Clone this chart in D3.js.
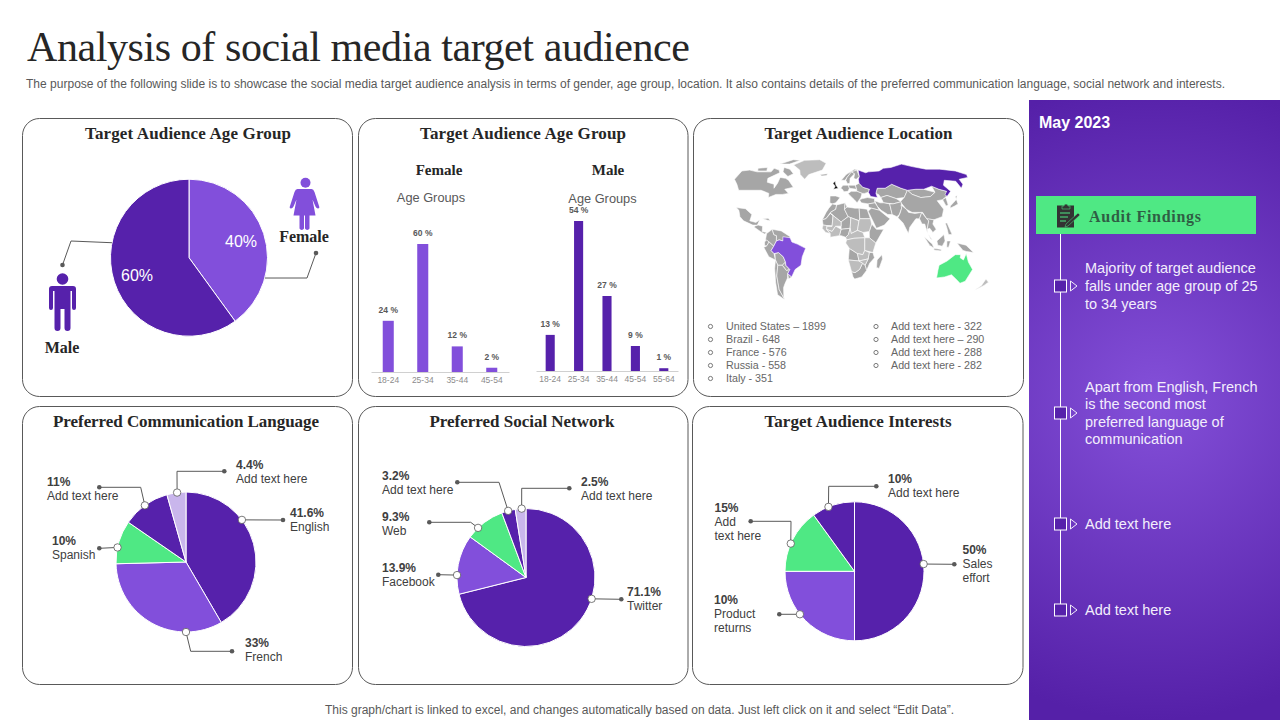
<!DOCTYPE html>
<html>
<head>
<meta charset="utf-8">
<script src="https://cdn.jsdelivr.net/npm/d3@7"></script>
<style>
body {margin: 0; background: #fff;}
svg {display: block;}
text {font-family: "Liberation Sans", Arial, sans-serif;}
.serif {font-family: "Liberation Serif", "Times New Roman", serif; font-weight: bold; fill: #262626;}
</style>
</head>
<body>
<div id="chart"></div>
<script>
// colours used all over the slide
const dark = "#5621AB", light = "#824FDB", green = "#4FE884", lilac = "#C9B6EC";

// gender split
const genderNames = ["Female", "Male"];
const genderValues = [40, 60];

// age group bars
const femaleAges = ["18-24", "25-34", "35-44", "45-54"];
const femaleValues = [24, 60, 12, 2];
const maleAges = ["18-24", "25-34", "35-44", "45-54", "55-64"];
const maleValues = [13, 54, 27, 9, 1];

// location list
const locationLeft = ["United States – 1899", "Brazil - 648", "France - 576", "Russia - 558", "Italy  - 351"];
const locationRight = ["Add text here - 322", "Add text here – 290", "Add text here - 288", "Add text here - 282"];

// pies
const languageValues = [41.6, 33, 10, 11, 4.4];
const languageLabels = ["41.6%", "33%", "10%", "11%", "4.4%"];
const languageNames = [["English"], ["French"], ["Spanish"], ["Add text here"], ["Add text here"]];
const networkValues = [71.1, 13.9, 9.3, 3.2, 2.5];
const networkLabels = ["71.1%", "13.9%", "9.3%", "3.2%", "2.5%"];
const networkNames = [["Twitter"], ["Facebook"], ["Web"], ["Add text here"], ["Add text here"]];
// the slice is a quarter of the pie but the slide labels it 10%
const interestValues = [50, 25, 15, 10];
const interestLabels = ["50%", "10%", "15%", "10%"];
const interestNames = [["Sales", "effort"], ["Product", "returns"], ["Add", "text here"], ["Add text here"]];

// sidebar
const findings = [
    ["Majority of target audience", "falls under age group of 25", "to 34 years"],
    ["Apart from English, French", "is the second most", "preferred language of", "communication"],
    ["Add text here"],
    ["Add text here"]
];

// rough world outline, [lon, lat]. no atlas file in here so drawn by hand
const mapGray = {
    canada: [[-138,69],[-128,70],[-115,68],[-95,68],[-94,72],[-85,70],[-82,67],[-94,61],[-92,57],[-82,55],[-80,51],[-78,56],[-78,62],[-70,61],[-65,59],[-56,52],[-66,50],[-60,46],[-67,45],[-75,45],[-83,42],[-84,46],[-95,49],[-123,49],[-130,55],[-138,60]],
    baffin: [[-80,73],[-70,71],[-62,66],[-68,63],[-78,68]],
    victoria: [[-118,72],[-105,73],[-102,69],[-115,69]],
    ellesmere: [[-90,77],[-75,83],[-62,82],[-75,77]],
    mexico: [[-117,32.5],[-106,31.5],[-97,26],[-98,20],[-91,18.5],[-87,21],[-89,16],[-94,16],[-105,20],[-110,24],[-113,30]],
    centralAmerica: [[-92,15],[-88,16],[-83,15],[-83,10],[-78,9],[-80,7.5],[-85,10],[-92,14]],
    cuba: [[-84,22],[-78,22.5],[-75,20],[-78,20.5]],
    colombia: [[-78,8],[-72,12],[-70,7],[-67,6],[-67,1],[-70,-4],[-75,0],[-79,2]],
    venezuela: [[-72,12],[-62,10.5],[-52,5],[-54,2],[-60,1],[-64,2],[-67,1],[-67,6],[-70,7]],
    ecuador: [[-80,0],[-78,2],[-75,0],[-78,-4],[-80,-3]],
    peru: [[-81,-5],[-78,-4],[-75,0],[-70,-4],[-73,-8],[-70,-11],[-69,-17],[-76,-14]],
    bolivia: [[-69,-11],[-65,-10],[-60,-14],[-58,-19],[-62,-22],[-67,-22],[-69,-17]],
    paraguay: [[-58,-19],[-58,-22],[-54,-26],[-58,-27],[-62,-22]],
    chile: [[-69,-17],[-67,-22],[-70,-32],[-71,-45],[-68,-55],[-75,-50],[-73,-38],[-71,-25]],
    argentina: [[-67,-22],[-62,-22],[-58,-27],[-54,-26],[-57,-30],[-58,-34],[-62,-39],[-65,-43],[-68,-52],[-68,-55],[-71,-45],[-70,-32]],
    uruguay: [[-57,-30],[-53,-33],[-57,-35]],
    iceland: [[-24,65],[-14,66],[-15,64],[-22,63.5]],
    spain: [[-9,43.5],[-2,43.5],[3,42],[0,39],[-2,37],[-6,36],[-9,37]],
    norway: [[5,59],[12,65],[25,71],[30,70],[20,68],[13,62],[10,59]],
    sweden: [[11,59],[13,62],[20,68],[24,66],[17,61],[16,56],[13,55.5]],
    finland: [[24,66],[20,68],[28,70],[30,63],[25,60],[22,61]],
    germany: [[4,51],[7,54],[14,54],[15,51],[13,48],[8,47.5],[6,50]],
    poland: [[14,54],[23,54],[24,50],[15,51]],
    ukraine: [[23,54],[28,56],[32,52],[40,50],[38,47],[33,46],[30,46],[24,48],[24,50]],
    balkans: [[13,46],[17,48],[24,48],[30,46],[28,42],[26,40],[23,37],[20,40],[15,44]],
    turkey: [[26,40],[30,41],[36,42],[44,41],[44,37],[36,36],[28,37]],
    kazakhstan: [[47,46],[50,51],[60,51],[70,55],[80,51],[87,49],[80,42],[70,41],[60,44],[52,42],[50,45]],
    centralAsia: [[52,42],[60,44],[70,41],[75,38],[65,36],[54,37]],
    mongolia: [[87,49],[98,50],[108,50],[120,47],[112,43],[100,42],[91,45]],
    china: [[80,42],[87,49],[91,45],[100,42],[112,43],[120,47],[120,53],[127,50],[135,48],[131,43],[125,40],[118,39],[122,31],[118,24],[108,21],[100,22],[97,28],[85,28],[79,31],[74,38]],
    korea: [[125,40],[130,42],[129,35],[126,34]],
    japan: [[130,32],[136,34],[141,36],[142,43],[145,44],[141,40],[136,37],[131,34]],
    iran: [[44,39],[50,37],[54,37],[61,36],[62,26],[57,26],[50,30],[46,34]],
    iraq: [[36,36],[44,37],[46,34],[48,30],[39,32],[36,33]],
    saudi: [[35,29],[39,32],[48,30],[56,24],[59,22],[52,16],[43,13],[39,21]],
    pakistan: [[61,36],[65,36],[75,38],[74,32],[70,26],[67,24],[62,26]],
    india: [[74,35],[79,31],[81,28],[88,27],[96,28],[92,22],[88,22],[80,14],[78,8],[73,18],[68,23],[71,27],[74,32]],
    burma: [[92,22],[96,28],[100,22],[102,20],[99,12],[99,8],[97,17],[94,17]],
    indochina: [[100,22],[108,21],[106,17],[109,12],[105,9],[102,13],[99,12],[102,20]],
    malaya: [[100,7],[104,2],[102,3]],
    sumatra: [[95,5],[104,-2],[106,-6],[101,-3]],
    borneo: [[109,1],[117,7],[118,1],[115,-4],[110,-3]],
    java: [[106,-6],[114,-7],[114,-8.5],[106,-7.5]],
    sulawesi: [[120,1],[124,1],[122,-5],[120,-5]],
    philippines: [[120,18],[122,18],[124,12],[126,7],[122,7],[121,13]],
    guinea: [[131,-1],[141,-3],[150,-10],[142,-9],[138,-8]],
    morocco: [[-6,36],[-1,35],[-2,31],[-8,28],[-13,22],[-17,21],[-13,28],[-10,32]],
    algeria: [[-1,35],[9,37],[8,31],[12,24],[4,19],[-8,27],[-8,28],[-2,31]],
    tunisia: [[9,37],[11,33],[8,31]],
    libya: [[11,33],[20,32],[25,32],[25,20],[15,23],[12,24],[8,31]],
    egypt: [[25,32],[34,31],[37,22],[25,22]],
    mauritania: [[-17,21],[-13,22],[-8,27],[-5,25],[-6,15],[-16,16]],
    niger: [[4,19],[12,24],[15,23],[14,13],[4,12],[4,15]],
    nigeria: [[2,6],[4,12],[14,13],[12,7],[9,4.5],[4,6]],
    ethiopia: [[35,10],[38,17],[43,12],[51,12],[42,-1],[35,4]],
    angola: [[13,-6],[22,-11],[24,-18],[12,-17]],
    mozambique: [[39,-10],[35,-10],[34,-16],[31,-22],[33,-27],[36,-20],[41,-15]],
    southAfrica: [[16,-28],[20,-29],[25,-26],[28,-20],[31,-22],[33,-27],[28,-33],[20,-35],[18,-33]],
    madagascar: [[49,-12],[50,-16],[47,-25],[44,-24],[44,-17]]
};
const mapPale = {
    greenland: [[-55,82],[-30,83],[-18,78],[-22,70],[-40,65],[-44,60],[-52,65],[-55,70],[-68,76]],
    mali: [[-8,27],[4,19],[4,15],[-2,15],[-6,10],[-12,12],[-12,15],[-6,15],[-5,25]],
    chad: [[15,23],[24,20],[22,11],[15,8],[14,13]],
    sudan: [[24,20],[25,22],[37,22],[38,17],[35,10],[28,9],[22,11]],
    westCoast: [[-16,16],[-6,15],[-12,15],[-12,12],[-8,8],[-13,9],[-17,13]],
    ghana: [[-12,12],[-6,10],[-2,15],[4,12],[2,6],[-8,4.5],[-8,8]],
    cameroon: [[9,4.5],[12,7],[14,13],[15,8],[22,11],[28,9],[30,4],[18,3.5],[10,2]],
    congo: [[10,2],[18,3.5],[30,4],[30,-8],[28,-12],[22,-11],[13,-6],[9,-1]],
    kenya: [[30,4],[35,4],[42,-1],[39,-10],[30,-8]],
    zambia: [[22,-11],[28,-12],[30,-8],[35,-10],[34,-16],[24,-18]],
    namibia: [[12,-17],[24,-18],[28,-20],[25,-26],[20,-29],[16,-28]],
    zimbabwe: [[24,-18],[34,-16],[31,-22],[28,-20]],
    newZealand: [[173,-35],[178,-38],[175,-41],[167,-46],[172,-41]]
};
const mapRussia = [[28,60],[30,63],[30,70],[40,67],[44,68],[60,69],[68,72],[80,73],[100,77],[113,74],[130,71],[150,71],[170,69],[180,65],[177,62],[163,60],[162,55],[156,51],[156,58],[142,59],[136,54],[140,48],[132,43],[131,45],[135,48],[127,50],[120,53],[108,50],[98,50],[87,49],[80,51],[70,55],[60,51],[50,51],[47,46],[48,42],[40,43],[38,47],[40,50],[32,52],[28,56]];
const mapBrazil = [[-60,5],[-52,4],[-50,0],[-44,-2],[-35,-6],[-39,-14],[-41,-22],[-48,-26],[-53,-33],[-57,-30],[-54,-26],[-58,-22],[-58,-19],[-60,-14],[-65,-10],[-70,-11],[-73,-8],[-70,-4],[-67,1],[-64,2],[-60,1]];
const mapAustralia = [[114,-22],[122,-18],[130,-12],[136,-12],[136,-15],[140,-17],[142,-11],[146,-19],[153,-26],[150,-37],[145,-39],[138,-35],[131,-31],[124,-33],[115,-34],[114,-27]];
const mapUk = [[-5,50],[1,51],[-2,54],[-3,58],[-6,56],[-3,53]];

const svg = d3.select("#chart").append("svg").attr("width", 1280).attr("height", 720);
const defs = svg.append("defs");

var grad = defs.append("radialGradient").attr("id", "sideGrad")
    .attr("gradientUnits", "userSpaceOnUse")
    .attr("cx", 1155).attr("cy", 400).attr("r", 320);
grad.append("stop").attr("offset", "0%").attr("stop-color", "#8450D9");
grad.append("stop").attr("offset", "100%").attr("stop-color", "#5520A8");

// small helper so text calls stay short
function label(parent, x, y, str, size, fill, opts) {
    opts = opts || {};
    var t = parent.append("text")
        .attr("x", x).attr("y", y).attr("dy", "0.35em")
        .attr("font-size", size).attr("fill", fill)
        .attr("text-anchor", opts.anchor || "start")
        .text(str);
    if (opts.bold) t.attr("font-weight", "bold");
    if (opts.serif) t.attr("class", "serif");
    if (opts.width) t.attr("textLength", opts.width).attr("lengthAdjust", "spacing");
    return t;
}

// header and footer
svg.append("text").attr("class", "serif").attr("x", 27).attr("y", 61)
    .attr("font-size", 42).style("font-weight", "normal")
    .attr("textLength", 663).text("Analysis of social media target audience");
label(svg, 26, 84, "The purpose of the following slide is to showcase the social media target audience analysis in terms of gender, age group, location. It also contains details of the preferred communication language, social network and interests.", 12, "#595959", {width: 1199});
label(svg, 325, 710, "This graph/chart is linked to excel,  and changes automatically based on data. Just left click on it and select “Edit Data”.", 12, "#595959", {width: 629});

// the six cards
const cards = [
    {x: 22.5, y: 118.5, w: 330, h: 278, tx: 188, title: "Target Audience Age Group"},
    {x: 358.5, y: 118.5, w: 329.5, h: 278, tx: 523, title: "Target Audience Age Group"},
    {x: 693.5, y: 118.5, w: 330, h: 278, tx: 858.5, title: "Target Audience Location"},
    {x: 22.5, y: 406.5, w: 330, h: 278, tx: 186, title: "Preferred Communication Language"},
    {x: 358.5, y: 406.5, w: 329.5, h: 278, tx: 522, title: "Preferred Social Network"},
    {x: 692.5, y: 406.5, w: 330.5, h: 278, tx: 858, title: "Target Audience Interests"}
];
const cardTitleWidths = [206, 206, 188, 266, 185, 187];
cards.forEach(function (c, i) {
    svg.append("rect").attr("x", c.x).attr("y", c.y).attr("width", c.w).attr("height", c.h)
        .attr("rx", 17).attr("fill", "#fff").attr("stroke", "#595959").attr("stroke-width", 1);
    label(svg, c.tx, c.y + 14.5, c.title, 17, "#262626",
        {anchor: "middle", serif: true, width: cardTitleWidths[i]});
});

function drawPie(values, colors, cx, cy, r) {
    var arcs = d3.pie().sort(null).value(d => d)(values);
    var arc = d3.arc().innerRadius(0).outerRadius(r);
    var g = svg.append("g").attr("transform", "translate(" + cx + "," + cy + ")");
    g.selectAll("path").data(arcs).enter().append("path")
        .attr("d", arc)
        .attr("fill", (d, i) => colors[i])
        .attr("stroke", "#fff").attr("stroke-width", 1);
    return g;
}

// leader line from the pie rim (angle in degrees clockwise from top) through the given points
function leader(cx, cy, r, angle, pts, hollow) {
    var p = d3.pointRadial(angle * Math.PI / 180, r);
    var start = [cx + p[0], cy + p[1]];
    var all = [start].concat(pts);
    svg.append("path").attr("d", d3.line()(all)).attr("fill", "none")
        .attr("stroke", "#595959").attr("stroke-width", 1);
    var end = pts[pts.length - 1];
    svg.append("circle").attr("cx", end[0]).attr("cy", end[1]).attr("r", 2.3).attr("fill", "#595959");
    if (hollow) {
        svg.append("circle").attr("cx", start[0]).attr("cy", start[1]).attr("r", 3.7)
            .attr("fill", "#fff").attr("stroke", "#595959").attr("stroke-width", 0.8);
    }
}

// gender pie
drawPie(genderValues, [light, dark], 189, 257.7, 78.5);
label(svg, 241, 241, genderValues[0] + "%", 16, "#fff", {anchor: "middle"});
label(svg, 137, 275, genderValues[1] + "%", 16, "#fff", {anchor: "middle"});
leader(189, 257.7, 78.5, 281, [[71, 241], [62.5, 265]], false);
leader(189, 257.7, 78.5, 105, [[307, 278], [316, 253]], false);
label(svg, 62, 347, genderNames[1], 16, "#262626", {anchor: "middle", serif: true});
label(svg, 304, 236, genderNames[0], 16, "#262626", {anchor: "middle", serif: true});

// person icons
var male = svg.append("g").attr("transform", "translate(62.5,0)").attr("fill", dark);
male.append("circle").attr("cy", 279).attr("r", 5.8);
male.append("path").attr("d", "M-13.5,289 a3,3 0 0 1 3,-3 h21 a3,3 0 0 1 3,3 v19 a2,2 0 0 1 -4,0 v-17 h-1.5 v37 a3,3 0 0 1 -6,0 v-19 h-4 v19 a3,3 0 0 1 -6,0 v-37 h-1.5 v17 a2,2 0 0 1 -4,0 z");
var female = svg.append("g").attr("transform", "translate(305.5,0)").attr("fill", light);
female.append("circle").attr("cy", 182.7).attr("r", 5);
female.append("path").attr("d", "M-6,189 h12 q2,0 3,3 l4.5,14 q1,2 -1,2.5 q-1.5,0 -2.5,-2 l-3,-7 l3,16 h-6 v13 a2.5,2.5 0 0 1 -4.5,0 v-13 h-1 v13 a2.5,2.5 0 0 1 -4.5,0 v-13 h-6 l3,-16 l-3,7 q-1,2 -2.5,2 q-2,-0.5 -1,-2.5 l4.5,-14 q1,-3 3,-3 z");

// age group bars
function drawBars(ages, values, color, x0, x1, baseline, top, maxVal) {
    var x = d3.scaleBand().domain(ages).range([x0, x1]).paddingInner(0.68).paddingOuter(0.34);
    var y = d3.scaleLinear().domain([0, maxVal]).range([baseline, top]);
    var axis = d3.axisBottom(x).tickSize(0).tickPadding(5);
    var ax = svg.append("g").attr("transform", "translate(0," + baseline + ")").call(axis);
    ax.select(".domain").attr("stroke", "#d0d0d0");
    ax.selectAll("text").attr("font-size", 8.5).attr("fill", "#8c8c8c")
        .style("font-family", "'Liberation Sans', Arial, sans-serif");
    svg.selectAll(null).data(values).enter().append("rect")
        .attr("x", (d, i) => x(ages[i]))
        .attr("y", d => y(d))
        .attr("width", x.bandwidth())
        .attr("height", d => baseline - y(d))
        .attr("fill", color);
    svg.selectAll(null).data(values).enter().append("text")
        .attr("x", (d, i) => x(ages[i]) + x.bandwidth() / 2)
        .attr("y", d => y(d) - 8)
        .attr("text-anchor", "middle")
        .attr("font-size", 8.5).attr("font-weight", "bold").attr("fill", "#595959")
        .text(d => d + " %");
}
label(svg, 439, 170, "Female", 15, "#262626", {anchor: "middle", serif: true});
label(svg, 608, 170, "Male", 15, "#262626", {anchor: "middle", serif: true});
label(svg, 431, 197.5, "Age Groups", 12.8, "#595959", {anchor: "middle"});
label(svg, 602.5, 199, "Age Groups", 12.8, "#595959", {anchor: "middle"});
drawBars(femaleAges, femaleValues, light, 371, 509, 372, 244, 60);
drawBars(maleAges, maleValues, dark, 536, 678, 371, 221, 54);

// world map
const projection = d3.geoNaturalEarth1().scale(60).translate([837.5, 242]);
const mapLine = d3.line().x(d => projection(d)[0]).y(d => projection(d)[1]).curve(d3.curveLinearClosed);
function drawLand(shape, fill) {
    svg.append("path").attr("d", mapLine(shape)).attr("fill", fill)
        .attr("stroke", "#fff").attr("stroke-width", 0.6).attr("stroke-linejoin", "round");
}
Object.values(mapGray).forEach(s => drawLand(s, "#A6A6A6"));
Object.values(mapPale).forEach(s => drawLand(s, "#BDBDBD"));
drawLand(mapRussia, dark);
drawLand(mapBrazil, light);
drawLand(mapAustralia, green);
drawLand(mapUk, "#111");

// location list
function drawList(items, xDot, xText) {
    items.forEach(function (t, i) {
        var y = 326 + i * 13;
        svg.append("circle").attr("cx", xDot).attr("cy", y + 0.5).attr("r", 2.1)
            .attr("fill", "none").attr("stroke", "#595959").attr("stroke-width", 0.8);
        label(svg, xText, y, t, 10.7, "#666");
    });
}
drawList(locationLeft, 710.5, 726);
drawList(locationRight, 876, 891);

// callout text: bold value then the name lines, 14px apart
function callout(x, y, value, names) {
    label(svg, x, y, value, 12, "#404040", {bold: true});
    names.forEach((n, i) => label(svg, x, y + 14 * (i + 1), n, 12, "#404040"));
}

// language pie
const langPie = {cx: 186, cy: 562, r: 70};
drawPie(languageValues, [dark, light, green, dark, lilac], langPie.cx, langPie.cy, langPie.r);
leader(langPie.cx, langPie.cy, langPie.r, 53, [[283, 520]], true);
leader(langPie.cx, langPie.cy, langPie.r, 180, [[190.7, 651.3], [232, 651.3]], true);
leader(langPie.cx, langPie.cy, langPie.r, 282, [[99.3, 548.3]], true);
leader(langPie.cx, langPie.cy, langPie.r, 324, [[140.7, 487.3], [99.3, 487.3]], true);
leader(langPie.cx, langPie.cy, langPie.r, 352.7, [[177, 471.3], [224.3, 471.3]], true);
callout(290, 512.7, languageLabels[0], languageNames[0]);
callout(245, 642.5, languageLabels[1], languageNames[1]);
callout(52, 540.7, languageLabels[2], languageNames[2]);
callout(47, 482, languageLabels[3], languageNames[3]);
callout(236, 464.7, languageLabels[4], languageNames[4]);

// social network pie
const netPie = {cx: 526, cy: 577.5, r: 69};
drawPie(networkValues, [dark, light, green, dark, lilac], netPie.cx, netPie.cy, netPie.r);
leader(netPie.cx, netPie.cy, netPie.r, 108, [[621.3, 599.3]], true);
leader(netPie.cx, netPie.cy, netPie.r, 272, [[438.3, 574.7]], true);
leader(netPie.cx, netPie.cy, netPie.r, 316, [[470.7, 522.3], [429.3, 522.3]], true);
leader(netPie.cx, netPie.cy, netPie.r, 345, [[499, 482.3], [457.3, 482.3]], true);
leader(netPie.cx, netPie.cy, netPie.r, 356.4, [[521.7, 488.3], [569.3, 488.3]], true);
callout(627, 591.7, networkLabels[0], networkNames[0]);
callout(382, 568, networkLabels[1], networkNames[1]);
callout(382, 517, networkLabels[2], networkNames[2]);
callout(382, 476, networkLabels[3], networkNames[3]);
callout(581, 482, networkLabels[4], networkNames[4]);

// interests pie
const intPie = {cx: 854.5, cy: 571.3, r: 69.5};
drawPie(interestValues, [dark, light, green, dark], intPie.cx, intPie.cy, intPie.r);
leader(intPie.cx, intPie.cy, intPie.r, 84, [[954.3, 564.3]], true);
leader(intPie.cx, intPie.cy, intPie.r, 231.8, [[779.3, 614.3]], true);
leader(intPie.cx, intPie.cy, intPie.r, 293.5, [[791, 521.3], [750.7, 521.3]], true);
leader(intPie.cx, intPie.cy, intPie.r, 338, [[828.7, 486.3], [876.3, 486.3]], true);
callout(962.5, 549.5, interestLabels[0], interestNames[0]);
callout(714, 600, interestLabels[1], interestNames[1]);
callout(714.5, 507.7, interestLabels[2], interestNames[2]);
callout(888, 478.7, interestLabels[3], interestNames[3]);

// sidebar
svg.append("rect").attr("x", 1029).attr("y", 100).attr("width", 251).attr("height", 620).attr("fill", "url(#sideGrad)");
label(svg, 1039, 122.5, "May 2023", 16, "#fff", {bold: true});
svg.append("rect").attr("x", 1036).attr("y", 196).attr("width", 220).attr("height", 38).attr("fill", green);
label(svg, 1089, 216, "Audit Findings", 16, "#2F5E44", {serif: true, width: 112}).style("fill", "#2F5E44");

// clipboard icon
var clip = svg.append("g").attr("transform", "translate(1057,203)");
clip.append("rect").attr("x", 0.5).attr("y", 3).attr("width", 16).attr("height", 21).attr("fill", "#333").attr("stroke", "#333");
clip.append("path").attr("d", "M5,3 h2 a2,2 0 0 1 4,0 h2 v3 h-8 z").attr("fill", "#333").attr("stroke", green).attr("stroke-width", 0.5);
clip.append("path").attr("d", "M3,10 h10 M3,14 h8 M3,18 h6").attr("stroke", green).attr("stroke-width", 1);
clip.append("path").attr("d", "M9,21 l12,-11 l2,2 l-12,11 l-3,1 z").attr("fill", "#333").attr("stroke", green).attr("stroke-width", 0.5);

// timeline
const stepCenters = [286, 413, 524, 610];
svg.append("line").attr("x1", 1060.5).attr("x2", 1060.5).attr("y1", 234).attr("y2", stepCenters[3])
    .attr("stroke", "#fff").attr("stroke-width", 1);
findings.forEach(function (lines, i) {
    var cy = stepCenters[i];
    svg.append("rect").attr("x", 1054.5).attr("y", cy - 6).attr("width", 12).attr("height", 12)
        .attr("fill", dark).attr("stroke", "#fff").attr("stroke-width", 1);
    svg.append("path").attr("d", "M1070.5," + (cy - 5) + " l6.5,5 l-6.5,5 z")
        .attr("fill", "none").attr("stroke", "#fff").attr("stroke-width", 0.9);
    var top = cy - (lines.length - 1) * 17.6 / 2;
    lines.forEach(function (l, j) {
        label(svg, 1085, top + j * 17.6, l, 14.5, "#F3EEFC");
    });
});
</script>
</body>
</html>
